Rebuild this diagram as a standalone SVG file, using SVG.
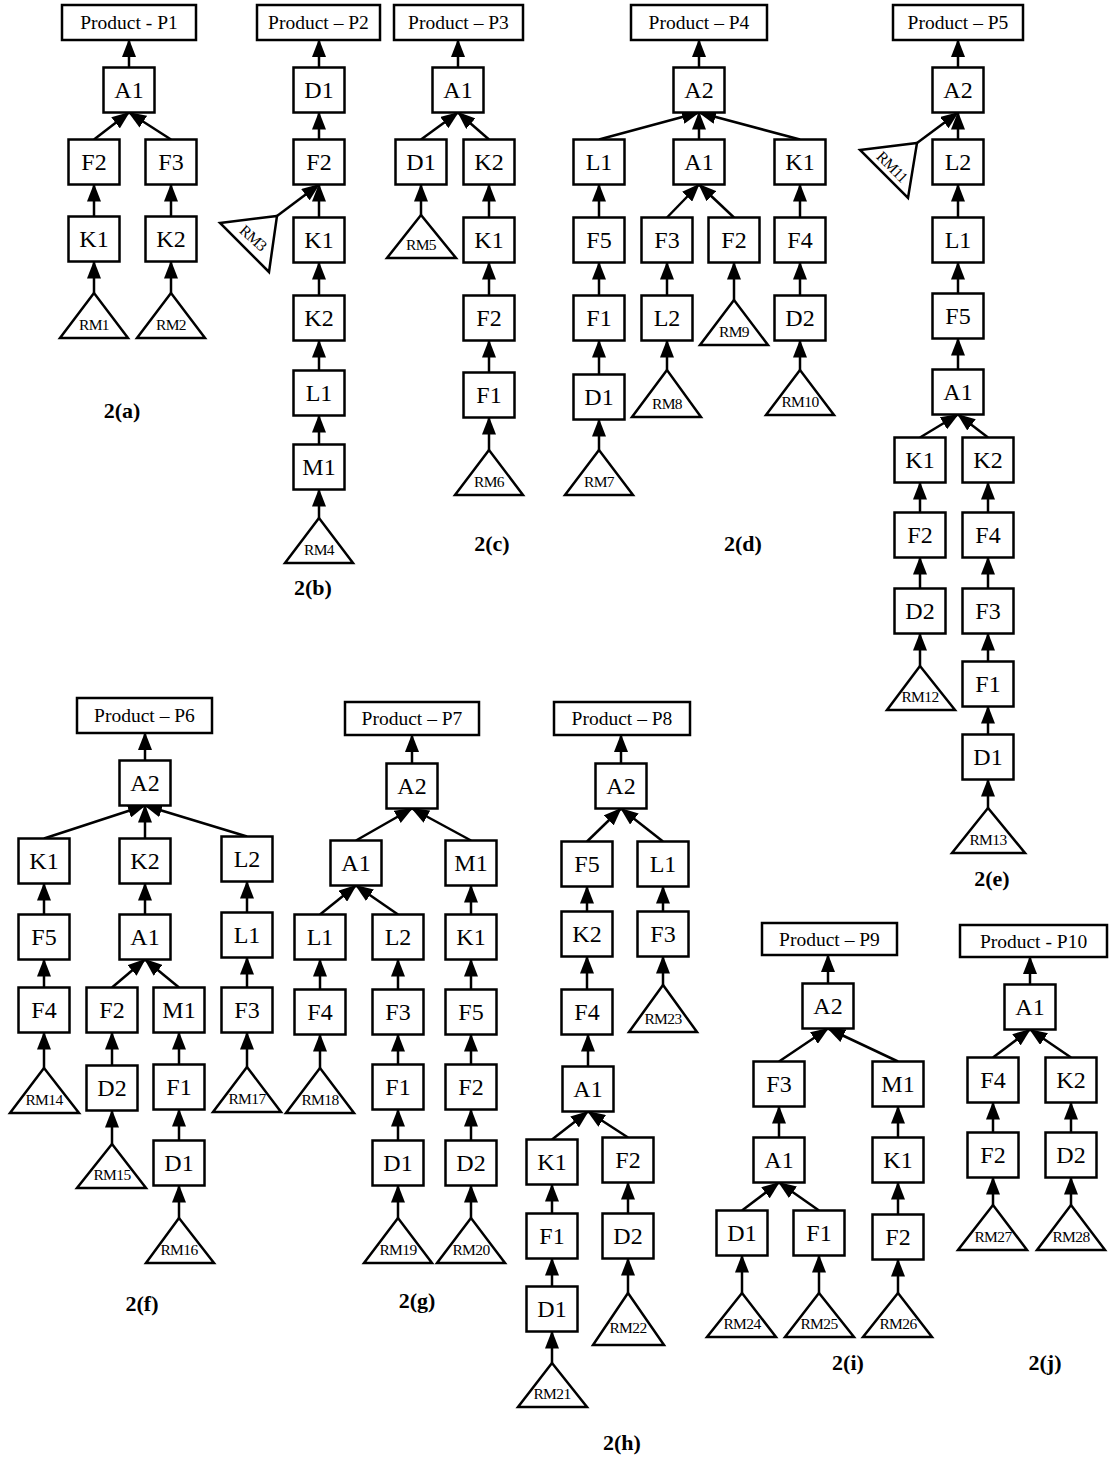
<svg xmlns="http://www.w3.org/2000/svg" width="1112" height="1458" viewBox="0 0 1112 1458">
<style>
.b{fill:#fff;stroke:#000;stroke-width:2.5}
.tr{fill:#fff;stroke:#000;stroke-width:2.5;stroke-linejoin:miter}
text{font-family:"Liberation Serif","Times New Roman",serif;text-anchor:middle;fill:#000}
.t{font-size:24px}
.p{font-size:19.5px}
.r{font-size:15.5px;letter-spacing:-0.6px}
.c{font-size:22px;font-weight:bold}
#edges line{stroke:#000;stroke-width:2.5;marker-end:url(#ah)}
</style>
<defs>
<marker id="ah" markerUnits="userSpaceOnUse" markerWidth="18" markerHeight="14" viewBox="0 0 18 14" refX="17" refY="7" orient="auto"><path d="M0,0 L18,7 L0,14 z" fill="#000"/></marker>
</defs>
<rect width="1112" height="1458" fill="#fff"/>
<g id="edges">
<!-- P1 -->
<line x1="129" y1="67.5" x2="129" y2="40"/>
<line x1="94" y1="139.5" x2="129" y2="112.5"/>
<line x1="171" y1="139.5" x2="129" y2="112.5"/>
<line x1="94" y1="216.5" x2="94" y2="184.5"/>
<line x1="171" y1="216.5" x2="171" y2="184.5"/>
<line x1="94" y1="293" x2="94" y2="261.5"/>
<line x1="171" y1="293" x2="171" y2="261.5"/>
<!-- P2 -->
<line x1="319" y1="67.5" x2="319" y2="40"/>
<line x1="319" y1="139.5" x2="319" y2="112.5"/>
<line x1="319" y1="217.5" x2="319" y2="184.5"/>
<line x1="277" y1="216" x2="319" y2="184.5"/>
<line x1="319" y1="295.5" x2="319" y2="262.5"/>
<line x1="319" y1="370.5" x2="319" y2="340.5"/>
<line x1="319" y1="444.5" x2="319" y2="415.5"/>
<line x1="319" y1="518" x2="319" y2="489.5"/>
<!-- P3 -->
<line x1="458" y1="67.5" x2="458" y2="40"/>
<line x1="421" y1="139.5" x2="458" y2="112.5"/>
<line x1="489" y1="139.5" x2="458" y2="112.5"/>
<line x1="421" y1="215" x2="421" y2="184.5"/>
<line x1="489" y1="217.5" x2="489" y2="184.5"/>
<line x1="489" y1="295.5" x2="489" y2="262.5"/>
<line x1="489" y1="372.5" x2="489" y2="340.5"/>
<line x1="489" y1="450" x2="489" y2="417.5"/>
<!-- P4 -->
<line x1="699" y1="67.5" x2="699" y2="40"/>
<line x1="599" y1="139.5" x2="699" y2="112.5"/>
<line x1="699" y1="139.5" x2="699" y2="112.5"/>
<line x1="800" y1="139.5" x2="699" y2="112.5"/>
<line x1="599" y1="217.5" x2="599" y2="184.5"/>
<line x1="667" y1="217.5" x2="699" y2="184.5"/>
<line x1="734" y1="217.5" x2="699" y2="184.5"/>
<line x1="800" y1="217.5" x2="800" y2="184.5"/>
<line x1="599" y1="295.5" x2="599" y2="262.5"/>
<line x1="667" y1="295.5" x2="667" y2="262.5"/>
<line x1="734" y1="300" x2="734" y2="262.5"/>
<line x1="800" y1="295.5" x2="800" y2="262.5"/>
<line x1="599" y1="374.5" x2="599" y2="340.5"/>
<line x1="667" y1="370" x2="667" y2="340.5"/>
<line x1="800" y1="370" x2="800" y2="340.5"/>
<line x1="599" y1="450" x2="599" y2="419.5"/>
<!-- P5 -->
<line x1="958" y1="67.5" x2="958" y2="40"/>
<line x1="958" y1="139.5" x2="958" y2="112.5"/>
<line x1="917" y1="143" x2="958" y2="112.5"/>
<line x1="958" y1="217.5" x2="958" y2="184.5"/>
<line x1="958" y1="293.5" x2="958" y2="262.5"/>
<line x1="958" y1="369.5" x2="958" y2="338.5"/>
<line x1="920" y1="437.5" x2="958" y2="414.5"/>
<line x1="988" y1="437.5" x2="958" y2="414.5"/>
<line x1="920" y1="512.5" x2="920" y2="482.5"/>
<line x1="988" y1="512.5" x2="988" y2="482.5"/>
<line x1="920" y1="588.5" x2="920" y2="557.5"/>
<line x1="988" y1="588.5" x2="988" y2="557.5"/>
<line x1="920" y1="666" x2="920" y2="633.5"/>
<line x1="988" y1="661.5" x2="988" y2="633.5"/>
<line x1="988" y1="734.5" x2="988" y2="706.5"/>
<line x1="988" y1="808" x2="988" y2="779.5"/>
<!-- P6 -->
<line x1="145" y1="760.5" x2="145" y2="733"/>
<line x1="44" y1="838.5" x2="145" y2="805.5"/>
<line x1="145" y1="838.5" x2="145" y2="805.5"/>
<line x1="247" y1="836.5" x2="145" y2="805.5"/>
<line x1="44" y1="914.5" x2="44" y2="883.5"/>
<line x1="145" y1="914.5" x2="145" y2="883.5"/>
<line x1="247" y1="912.5" x2="247" y2="881.5"/>
<line x1="44" y1="987.5" x2="44" y2="959.5"/>
<line x1="112" y1="987.5" x2="145" y2="959.5"/>
<line x1="179" y1="987.5" x2="145" y2="959.5"/>
<line x1="247" y1="987.5" x2="247" y2="957.5"/>
<line x1="44" y1="1068" x2="44" y2="1032.5"/>
<line x1="112" y1="1065.5" x2="112" y2="1032.5"/>
<line x1="179" y1="1064.5" x2="179" y2="1032.5"/>
<line x1="247" y1="1067" x2="247" y2="1032.5"/>
<line x1="112" y1="1144" x2="112" y2="1110.5"/>
<line x1="179" y1="1140.5" x2="179" y2="1109.5"/>
<line x1="179" y1="1218" x2="179" y2="1185.5"/>
<!-- P7 -->
<line x1="412" y1="763.5" x2="412" y2="735"/>
<line x1="356" y1="840.5" x2="412" y2="808.5"/>
<line x1="471" y1="840.5" x2="412" y2="808.5"/>
<line x1="320" y1="914.5" x2="356" y2="885.5"/>
<line x1="398" y1="914.5" x2="356" y2="885.5"/>
<line x1="471" y1="914.5" x2="471" y2="885.5"/>
<line x1="320" y1="989.5" x2="320" y2="959.5"/>
<line x1="398" y1="989.5" x2="398" y2="959.5"/>
<line x1="471" y1="989.5" x2="471" y2="959.5"/>
<line x1="320" y1="1068" x2="320" y2="1034.5"/>
<line x1="398" y1="1064.5" x2="398" y2="1034.5"/>
<line x1="471" y1="1064.5" x2="471" y2="1034.5"/>
<line x1="398" y1="1140.5" x2="398" y2="1109.5"/>
<line x1="471" y1="1140.5" x2="471" y2="1109.5"/>
<line x1="398" y1="1218" x2="398" y2="1185.5"/>
<line x1="471" y1="1218" x2="471" y2="1185.5"/>
<!-- P8 -->
<line x1="621" y1="763.5" x2="621" y2="735"/>
<line x1="587" y1="841.5" x2="621" y2="808.5"/>
<line x1="663" y1="841.5" x2="621" y2="808.5"/>
<line x1="587" y1="911.5" x2="587" y2="886.5"/>
<line x1="663" y1="911.5" x2="663" y2="886.5"/>
<line x1="587" y1="989.5" x2="587" y2="956.5"/>
<line x1="663" y1="985" x2="663" y2="956.5"/>
<line x1="588" y1="1066.5" x2="588" y2="1034.5"/>
<line x1="552" y1="1139.5" x2="588" y2="1111.5"/>
<line x1="628" y1="1137.5" x2="588" y2="1111.5"/>
<line x1="552" y1="1213.5" x2="552" y2="1184.5"/>
<line x1="628" y1="1213.5" x2="628" y2="1182.5"/>
<line x1="552" y1="1286.5" x2="552" y2="1258.5"/>
<line x1="628" y1="1293" x2="628" y2="1258.5"/>
<line x1="552" y1="1363" x2="552" y2="1331.5"/>
<!-- P9 -->
<line x1="828" y1="983.5" x2="828" y2="955"/>
<line x1="779" y1="1061.5" x2="828" y2="1028.5"/>
<line x1="898" y1="1061.5" x2="828" y2="1028.5"/>
<line x1="779" y1="1137.5" x2="779" y2="1106.5"/>
<line x1="898" y1="1137.5" x2="898" y2="1106.5"/>
<line x1="742" y1="1210.5" x2="779" y2="1182.5"/>
<line x1="819" y1="1210.5" x2="779" y2="1182.5"/>
<line x1="898" y1="1214.5" x2="898" y2="1182.5"/>
<line x1="742" y1="1293" x2="742" y2="1255.5"/>
<line x1="819" y1="1293" x2="819" y2="1255.5"/>
<line x1="898" y1="1293" x2="898" y2="1259.5"/>
<!-- P10 -->
<line x1="1030" y1="984.5" x2="1030" y2="957"/>
<line x1="993" y1="1057.5" x2="1030" y2="1029.5"/>
<line x1="1071" y1="1057.5" x2="1030" y2="1029.5"/>
<line x1="993" y1="1132.5" x2="993" y2="1102.5"/>
<line x1="1071" y1="1132.5" x2="1071" y2="1102.5"/>
<line x1="993" y1="1205" x2="993" y2="1177.5"/>
<line x1="1071" y1="1205" x2="1071" y2="1177.5"/>
</g>

<!-- ===== P1 ===== -->
<g id="p1-prod"><rect class="b" x="62" y="5" width="134" height="35"/><text class="p" x="129" y="29">Product - P1</text></g>
<g id="p1-a1"><rect class="b" x="103.5" y="67.5" width="51" height="45"/><text class="t" x="129" y="98">A1</text></g>
<g id="p1-f2"><rect class="b" x="68.5" y="139.5" width="51" height="45"/><text class="t" x="94" y="170">F2</text></g>
<g id="p1-f3"><rect class="b" x="145.5" y="139.5" width="51" height="45"/><text class="t" x="171" y="170">F3</text></g>
<g id="p1-k1"><rect class="b" x="68.5" y="216.5" width="51" height="45"/><text class="t" x="94" y="247">K1</text></g>
<g id="p1-k2"><rect class="b" x="145.5" y="216.5" width="51" height="45"/><text class="t" x="171" y="247">K2</text></g>
<g id="p1-rm1"><polygon class="tr" points="94,293 60,338 128,338"/><text class="r" x="94" y="330">RM1</text></g>
<g id="p1-rm2"><polygon class="tr" points="171,293 137,338 205,338"/><text class="r" x="171" y="330">RM2</text></g>
<text class="c" x="122" y="418">2(a)</text>

<!-- ===== P2 ===== -->
<g id="p2-prod"><rect class="b" x="257" y="5" width="123" height="35"/><text class="p" x="318.5" y="29">Product – P2</text></g>
<g id="p2-d1"><rect class="b" x="293.5" y="67.5" width="51" height="45"/><text class="t" x="319" y="98">D1</text></g>
<g id="p2-f2"><rect class="b" x="293.5" y="139.5" width="51" height="45"/><text class="t" x="319" y="170">F2</text></g>
<g id="p2-k1"><rect class="b" x="293.5" y="217.5" width="51" height="45"/><text class="t" x="319" y="248">K1</text></g>
<g id="p2-k2"><rect class="b" x="293.5" y="295.5" width="51" height="45"/><text class="t" x="319" y="326">K2</text></g>
<g id="p2-l1"><rect class="b" x="293.5" y="370.5" width="51" height="45"/><text class="t" x="319" y="401">L1</text></g>
<g id="p2-m1"><rect class="b" x="293.5" y="444.5" width="51" height="45"/><text class="t" x="319" y="475">M1</text></g>
<g id="p2-rm3"><polygon class="tr" points="220,223 277,216 269,272"/><text class="r" transform="translate(253,238) rotate(42)" x="0" y="5">RM3</text></g>
<g id="p2-rm4"><polygon class="tr" points="319,518 285,563 353,563"/><text class="r" x="319" y="555">RM4</text></g>
<text class="c" x="313" y="595">2(b)</text>

<!-- ===== P3 ===== -->
<g id="p3-prod"><rect class="b" x="394" y="5" width="129" height="35"/><text class="p" x="458.5" y="29">Product – P3</text></g>
<g id="p3-a1"><rect class="b" x="432.5" y="67.5" width="51" height="45"/><text class="t" x="458" y="98">A1</text></g>
<g id="p3-d1"><rect class="b" x="395.5" y="139.5" width="51" height="45"/><text class="t" x="421" y="170">D1</text></g>
<g id="p3-k2"><rect class="b" x="463.5" y="139.5" width="51" height="45"/><text class="t" x="489" y="170">K2</text></g>
<g id="p3-k1"><rect class="b" x="463.5" y="217.5" width="51" height="45"/><text class="t" x="489" y="248">K1</text></g>
<g id="p3-f2"><rect class="b" x="463.5" y="295.5" width="51" height="45"/><text class="t" x="489" y="326">F2</text></g>
<g id="p3-f1"><rect class="b" x="463.5" y="372.5" width="51" height="45"/><text class="t" x="489" y="403">F1</text></g>
<g id="p3-rm5"><polygon class="tr" points="421,215 387,258 456,258"/><text class="r" x="421" y="250">RM5</text></g>
<g id="p3-rm6"><polygon class="tr" points="489,450 455,495 523,495"/><text class="r" x="489" y="487">RM6</text></g>
<text class="c" x="492" y="551">2(c)</text>

<!-- ===== P4 ===== -->
<g id="p4-prod"><rect class="b" x="631" y="5" width="136" height="35"/><text class="p" x="699" y="29">Product – P4</text></g>
<g id="p4-a2"><rect class="b" x="673.5" y="67.5" width="51" height="45"/><text class="t" x="699" y="98">A2</text></g>
<g id="p4-l1"><rect class="b" x="573.5" y="139.5" width="51" height="45"/><text class="t" x="599" y="170">L1</text></g>
<g id="p4-a1"><rect class="b" x="673.5" y="139.5" width="51" height="45"/><text class="t" x="699" y="170">A1</text></g>
<g id="p4-k1"><rect class="b" x="774.5" y="139.5" width="51" height="45"/><text class="t" x="800" y="170">K1</text></g>
<g id="p4-f5"><rect class="b" x="573.5" y="217.5" width="51" height="45"/><text class="t" x="599" y="248">F5</text></g>
<g id="p4-f3"><rect class="b" x="641.5" y="217.5" width="51" height="45"/><text class="t" x="667" y="248">F3</text></g>
<g id="p4-f2"><rect class="b" x="708.5" y="217.5" width="51" height="45"/><text class="t" x="734" y="248">F2</text></g>
<g id="p4-f4"><rect class="b" x="774.5" y="217.5" width="51" height="45"/><text class="t" x="800" y="248">F4</text></g>
<g id="p4-f1"><rect class="b" x="573.5" y="295.5" width="51" height="45"/><text class="t" x="599" y="326">F1</text></g>
<g id="p4-l2"><rect class="b" x="641.5" y="295.5" width="51" height="45"/><text class="t" x="667" y="326">L2</text></g>
<g id="p4-d2"><rect class="b" x="774.5" y="295.5" width="51" height="45"/><text class="t" x="800" y="326">D2</text></g>
<g id="p4-d1"><rect class="b" x="573.5" y="374.5" width="51" height="45"/><text class="t" x="599" y="405">D1</text></g>
<g id="p4-rm9"><polygon class="tr" points="734,300 700,345 768,345"/><text class="r" x="734" y="337">RM9</text></g>
<g id="p4-rm8"><polygon class="tr" points="667,370 632,417 701,417"/><text class="r" x="667" y="409">RM8</text></g>
<g id="p4-rm10"><polygon class="tr" points="800,370 766,415 834,415"/><text class="r" x="800" y="407">RM10</text></g>
<g id="p4-rm7"><polygon class="tr" points="599,450 565,495 633,495"/><text class="r" x="599" y="487">RM7</text></g>
<text class="c" x="743" y="551">2(d)</text>

<!-- ===== P5 ===== -->
<g id="p5-prod"><rect class="b" x="893" y="5" width="130" height="35"/><text class="p" x="958" y="29">Product – P5</text></g>
<g id="p5-a2"><rect class="b" x="932.5" y="67.5" width="51" height="45"/><text class="t" x="958" y="98">A2</text></g>
<g id="p5-l2"><rect class="b" x="932.5" y="139.5" width="51" height="45"/><text class="t" x="958" y="170">L2</text></g>
<g id="p5-l1"><rect class="b" x="932.5" y="217.5" width="51" height="45"/><text class="t" x="958" y="248">L1</text></g>
<g id="p5-f5"><rect class="b" x="932.5" y="293.5" width="51" height="45"/><text class="t" x="958" y="324">F5</text></g>
<g id="p5-a1"><rect class="b" x="932.5" y="369.5" width="51" height="45"/><text class="t" x="958" y="400">A1</text></g>
<g id="p5-k1"><rect class="b" x="894.5" y="437.5" width="51" height="45"/><text class="t" x="920" y="468">K1</text></g>
<g id="p5-k2"><rect class="b" x="962.5" y="437.5" width="51" height="45"/><text class="t" x="988" y="468">K2</text></g>
<g id="p5-f2"><rect class="b" x="894.5" y="512.5" width="51" height="45"/><text class="t" x="920" y="543">F2</text></g>
<g id="p5-f4"><rect class="b" x="962.5" y="512.5" width="51" height="45"/><text class="t" x="988" y="543">F4</text></g>
<g id="p5-d2"><rect class="b" x="894.5" y="588.5" width="51" height="45"/><text class="t" x="920" y="619">D2</text></g>
<g id="p5-f3"><rect class="b" x="962.5" y="588.5" width="51" height="45"/><text class="t" x="988" y="619">F3</text></g>
<g id="p5-f1"><rect class="b" x="962.5" y="661.5" width="51" height="45"/><text class="t" x="988" y="692">F1</text></g>
<g id="p5-d1"><rect class="b" x="962.5" y="734.5" width="51" height="45"/><text class="t" x="988" y="765">D1</text></g>
<g id="p5-rm11"><polygon class="tr" points="860,150 917,143 908,198"/><text class="r" transform="translate(892,167) rotate(45)" x="0" y="5">RM11</text></g>
<g id="p5-rm12"><polygon class="tr" points="920,666 887,710 955,710"/><text class="r" x="920" y="702">RM12</text></g>
<g id="p5-rm13"><polygon class="tr" points="988,808 952,853 1025,853"/><text class="r" x="988" y="845">RM13</text></g>
<text class="c" x="992" y="886">2(e)</text>

<!-- ===== P6 ===== -->
<g id="p6-prod"><rect class="b" x="77" y="698" width="135" height="35"/><text class="p" x="144.5" y="722">Product – P6</text></g>
<g id="p6-a2"><rect class="b" x="119.5" y="760.5" width="51" height="45"/><text class="t" x="145" y="791">A2</text></g>
<g id="p6-k1"><rect class="b" x="18.5" y="838.5" width="51" height="45"/><text class="t" x="44" y="869">K1</text></g>
<g id="p6-k2"><rect class="b" x="119.5" y="838.5" width="51" height="45"/><text class="t" x="145" y="869">K2</text></g>
<g id="p6-l2"><rect class="b" x="221.5" y="836.5" width="51" height="45"/><text class="t" x="247" y="867">L2</text></g>
<g id="p6-f5"><rect class="b" x="18.5" y="914.5" width="51" height="45"/><text class="t" x="44" y="945">F5</text></g>
<g id="p6-a1"><rect class="b" x="119.5" y="914.5" width="51" height="45"/><text class="t" x="145" y="945">A1</text></g>
<g id="p6-l1"><rect class="b" x="221.5" y="912.5" width="51" height="45"/><text class="t" x="247" y="943">L1</text></g>
<g id="p6-f4"><rect class="b" x="18.5" y="987.5" width="51" height="45"/><text class="t" x="44" y="1018">F4</text></g>
<g id="p6-f2"><rect class="b" x="86.5" y="987.5" width="51" height="45"/><text class="t" x="112" y="1018">F2</text></g>
<g id="p6-m1"><rect class="b" x="153.5" y="987.5" width="51" height="45"/><text class="t" x="179" y="1018">M1</text></g>
<g id="p6-f3"><rect class="b" x="221.5" y="987.5" width="51" height="45"/><text class="t" x="247" y="1018">F3</text></g>
<g id="p6-d2"><rect class="b" x="86.5" y="1065.5" width="51" height="45"/><text class="t" x="112" y="1096">D2</text></g>
<g id="p6-f1"><rect class="b" x="153.5" y="1064.5" width="51" height="45"/><text class="t" x="179" y="1095">F1</text></g>
<g id="p6-d1"><rect class="b" x="153.5" y="1140.5" width="51" height="45"/><text class="t" x="179" y="1171">D1</text></g>
<g id="p6-rm14"><polygon class="tr" points="44,1068 10,1113 79,1113"/><text class="r" x="44" y="1105">RM14</text></g>
<g id="p6-rm17"><polygon class="tr" points="247,1067 213,1112 281,1112"/><text class="r" x="247" y="1104">RM17</text></g>
<g id="p6-rm15"><polygon class="tr" points="112,1144 77,1188 146,1188"/><text class="r" x="112" y="1180">RM15</text></g>
<g id="p6-rm16"><polygon class="tr" points="179,1218 146,1263 214,1263"/><text class="r" x="179" y="1255">RM16</text></g>
<text class="c" x="142" y="1311">2(f)</text>

<!-- ===== P7 ===== -->
<g id="p7-prod"><rect class="b" x="345" y="702" width="134" height="33"/><text class="p" x="412" y="725">Product – P7</text></g>
<g id="p7-a2"><rect class="b" x="386.5" y="763.5" width="51" height="45"/><text class="t" x="412" y="794">A2</text></g>
<g id="p7-a1"><rect class="b" x="330.5" y="840.5" width="51" height="45"/><text class="t" x="356" y="871">A1</text></g>
<g id="p7-m1"><rect class="b" x="445.5" y="840.5" width="51" height="45"/><text class="t" x="471" y="871">M1</text></g>
<g id="p7-l1"><rect class="b" x="294.5" y="914.5" width="51" height="45"/><text class="t" x="320" y="945">L1</text></g>
<g id="p7-l2"><rect class="b" x="372.5" y="914.5" width="51" height="45"/><text class="t" x="398" y="945">L2</text></g>
<g id="p7-k1"><rect class="b" x="445.5" y="914.5" width="51" height="45"/><text class="t" x="471" y="945">K1</text></g>
<g id="p7-f4"><rect class="b" x="294.5" y="989.5" width="51" height="45"/><text class="t" x="320" y="1020">F4</text></g>
<g id="p7-f3"><rect class="b" x="372.5" y="989.5" width="51" height="45"/><text class="t" x="398" y="1020">F3</text></g>
<g id="p7-f5"><rect class="b" x="445.5" y="989.5" width="51" height="45"/><text class="t" x="471" y="1020">F5</text></g>
<g id="p7-f1"><rect class="b" x="372.5" y="1064.5" width="51" height="45"/><text class="t" x="398" y="1095">F1</text></g>
<g id="p7-f2"><rect class="b" x="445.5" y="1064.5" width="51" height="45"/><text class="t" x="471" y="1095">F2</text></g>
<g id="p7-d1"><rect class="b" x="372.5" y="1140.5" width="51" height="45"/><text class="t" x="398" y="1171">D1</text></g>
<g id="p7-d2"><rect class="b" x="445.5" y="1140.5" width="51" height="45"/><text class="t" x="471" y="1171">D2</text></g>
<g id="p7-rm18"><polygon class="tr" points="320,1068 286,1113 354,1113"/><text class="r" x="320" y="1105">RM18</text></g>
<g id="p7-rm19"><polygon class="tr" points="398,1218 364,1263 432,1263"/><text class="r" x="398" y="1255">RM19</text></g>
<g id="p7-rm20"><polygon class="tr" points="471,1218 437,1263 505,1263"/><text class="r" x="471" y="1255">RM20</text></g>
<text class="c" x="417" y="1308">2(g)</text>

<!-- ===== P8 ===== -->
<g id="p8-prod"><rect class="b" x="554" y="702" width="136" height="33"/><text class="p" x="622" y="725">Product – P8</text></g>
<g id="p8-a2"><rect class="b" x="595.5" y="763.5" width="51" height="45"/><text class="t" x="621" y="794">A2</text></g>
<g id="p8-f5"><rect class="b" x="561.5" y="841.5" width="51" height="45"/><text class="t" x="587" y="872">F5</text></g>
<g id="p8-l1"><rect class="b" x="637.5" y="841.5" width="51" height="45"/><text class="t" x="663" y="872">L1</text></g>
<g id="p8-k2"><rect class="b" x="561.5" y="911.5" width="51" height="45"/><text class="t" x="587" y="942">K2</text></g>
<g id="p8-f3"><rect class="b" x="637.5" y="911.5" width="51" height="45"/><text class="t" x="663" y="942">F3</text></g>
<g id="p8-f4"><rect class="b" x="561.5" y="989.5" width="51" height="45"/><text class="t" x="587" y="1020">F4</text></g>
<g id="p8-a1"><rect class="b" x="562.5" y="1066.5" width="51" height="45"/><text class="t" x="588" y="1097">A1</text></g>
<g id="p8-k1"><rect class="b" x="526.5" y="1139.5" width="51" height="45"/><text class="t" x="552" y="1170">K1</text></g>
<g id="p8-f2"><rect class="b" x="602.5" y="1137.5" width="51" height="45"/><text class="t" x="628" y="1168">F2</text></g>
<g id="p8-f1"><rect class="b" x="526.5" y="1213.5" width="51" height="45"/><text class="t" x="552" y="1244">F1</text></g>
<g id="p8-d2"><rect class="b" x="602.5" y="1213.5" width="51" height="45"/><text class="t" x="628" y="1244">D2</text></g>
<g id="p8-d1"><rect class="b" x="526.5" y="1286.5" width="51" height="45"/><text class="t" x="552" y="1317">D1</text></g>
<g id="p8-rm23"><polygon class="tr" points="663,985 629,1032 697,1032"/><text class="r" x="663" y="1024">RM23</text></g>
<g id="p8-rm22"><polygon class="tr" points="628,1293 593,1345 664,1345"/><text class="r" x="628" y="1333">RM22</text></g>
<g id="p8-rm21"><polygon class="tr" points="552,1363 518,1407 587,1407"/><text class="r" x="552" y="1399">RM21</text></g>
<text class="c" x="622" y="1450">2(h)</text>

<!-- ===== P9 ===== -->
<g id="p9-prod"><rect class="b" x="762" y="923" width="135" height="32"/><text class="p" x="829.5" y="945.5">Product – P9</text></g>
<g id="p9-a2"><rect class="b" x="802.5" y="983.5" width="51" height="45"/><text class="t" x="828" y="1014">A2</text></g>
<g id="p9-f3"><rect class="b" x="753.5" y="1061.5" width="51" height="45"/><text class="t" x="779" y="1092">F3</text></g>
<g id="p9-m1"><rect class="b" x="872.5" y="1061.5" width="51" height="45"/><text class="t" x="898" y="1092">M1</text></g>
<g id="p9-a1"><rect class="b" x="753.5" y="1137.5" width="51" height="45"/><text class="t" x="779" y="1168">A1</text></g>
<g id="p9-k1"><rect class="b" x="872.5" y="1137.5" width="51" height="45"/><text class="t" x="898" y="1168">K1</text></g>
<g id="p9-d1"><rect class="b" x="716.5" y="1210.5" width="51" height="45"/><text class="t" x="742" y="1241">D1</text></g>
<g id="p9-f1"><rect class="b" x="793.5" y="1210.5" width="51" height="45"/><text class="t" x="819" y="1241">F1</text></g>
<g id="p9-f2"><rect class="b" x="872.5" y="1214.5" width="51" height="45"/><text class="t" x="898" y="1245">F2</text></g>
<g id="p9-rm24"><polygon class="tr" points="742,1293 707,1337 776,1337"/><text class="r" x="742" y="1329">RM24</text></g>
<g id="p9-rm25"><polygon class="tr" points="819,1293 785,1337 854,1337"/><text class="r" x="819" y="1329">RM25</text></g>
<g id="p9-rm26"><polygon class="tr" points="898,1293 863,1337 932,1337"/><text class="r" x="898" y="1329">RM26</text></g>
<text class="c" x="848" y="1370">2(i)</text>

<!-- ===== P10 ===== -->
<g id="p10-prod"><rect class="b" x="960" y="925" width="147" height="32"/><text class="p" x="1033.5" y="947.5">Product - P10</text></g>
<g id="p10-a1"><rect class="b" x="1004.5" y="984.5" width="51" height="45"/><text class="t" x="1030" y="1015">A1</text></g>
<g id="p10-f4"><rect class="b" x="967.5" y="1057.5" width="51" height="45"/><text class="t" x="993" y="1088">F4</text></g>
<g id="p10-k2"><rect class="b" x="1045.5" y="1057.5" width="51" height="45"/><text class="t" x="1071" y="1088">K2</text></g>
<g id="p10-f2"><rect class="b" x="967.5" y="1132.5" width="51" height="45"/><text class="t" x="993" y="1163">F2</text></g>
<g id="p10-d2"><rect class="b" x="1045.5" y="1132.5" width="51" height="45"/><text class="t" x="1071" y="1163">D2</text></g>
<g id="p10-rm27"><polygon class="tr" points="993,1205 958,1250 1027,1250"/><text class="r" x="993" y="1242">RM27</text></g>
<g id="p10-rm28"><polygon class="tr" points="1071,1205 1037,1250 1105,1250"/><text class="r" x="1071" y="1242">RM28</text></g>
<text class="c" x="1045" y="1370">2(j)</text>
</svg>
